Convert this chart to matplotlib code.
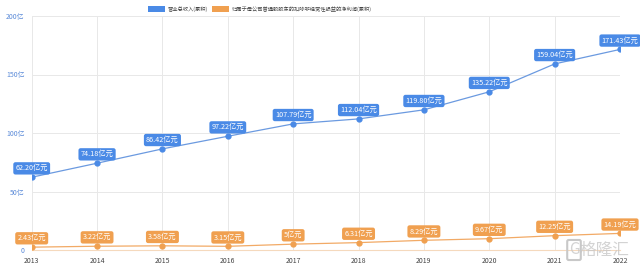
import numpy as np
import matplotlib
matplotlib.use('Agg')
import matplotlib.pyplot as plt
from matplotlib.patches import Rectangle

plt.rcParams['font.family'] = ['Noto Sans CJK SC', 'DejaVu Sans']

years = ['2013', '2014', '2015', '2016', '2017', '2018', '2019', '2020', '2021', '2022']
revenue = [62.20, 74.18, 86.42, 97.22, 107.79, 112.04, 119.80, 135.22, 159.04, 171.43]
profit = [2.43, 3.22, 3.58, 3.15, 5, 6.31, 8.29, 9.67, 12.25, 14.19]
rev_labels = ['62.20亿元', '74.18亿元', '86.42亿元', '97.22亿元', '107.79亿元',
              '112.04亿元', '119.80亿元', '135.22亿元', '159.04亿元', '171.43亿元']
prof_labels = ['2.43亿元', '3.22亿元', '3.58亿元', '3.15亿元', '5亿元',
               '6.31亿元', '8.29亿元', '9.67亿元', '12.25亿元', '14.19亿元']
yticks = [0, 50, 100, 150, 200]
ytick_labels = ['0', '50亿', '100亿', '150亿', '200亿']

blue = '#4a8ae6'
orange = '#f0a050'

fig = plt.figure(figsize=(6.4, 2.7), dpi=100)
ax = fig.add_axes([31.7/640, 1-250/270, (620-31.7)/640, 234/270])
x = np.arange(len(years))

ax.plot(x, revenue, color='#6b9ae0', lw=0.9, marker='o', ms=3.5, mfc=blue, mec=blue, zorder=3)
ax.plot(x, profit, color='#f2aa66', lw=0.9, marker='o', ms=3.5, mfc=orange, mec=orange, zorder=3)

for i in range(len(years)):
    ax.annotate(rev_labels[i], (x[i], revenue[i]), xytext=(0, 3.5), textcoords='offset points',
                ha='center', va='bottom', fontsize=5.2, color='white', zorder=5, annotation_clip=False,
                bbox=dict(boxstyle='round,pad=0.3,rounding_size=0.3', fc=blue, ec='none'))
    ax.annotate(prof_labels[i], (x[i], profit[i]), xytext=(0, 3.5), textcoords='offset points',
                ha='center', va='bottom', fontsize=5.2, color='white', zorder=5, annotation_clip=False,
                bbox=dict(boxstyle='round,pad=0.3,rounding_size=0.3', fc=orange, ec='none'))

ax.set_xlim(0, len(years) - 1)
ax.set_ylim(0, 200)
ax.set_xticks(x)
ax.set_xticklabels(years, fontsize=5, color='#444444')
ax.set_yticks(yticks)
ax.set_yticklabels(ytick_labels, fontsize=5, color='#5a8ad8')
ax.tick_params(length=0, pad=5)
ax.grid(True, color='#e8e8e8', lw=0.7)
for s in ['top', 'right', 'left']:
    ax.spines[s].set_visible(False)
ax.spines['bottom'].set_color('#f5d9bd')
ax.set_axisbelow(True)

# legend
fig.patches.append(Rectangle((148/640, 1-12/270), 17/640, 6/270, transform=fig.transFigure, fc=blue, ec='none'))
fig.text(168/640, 1-9/270, '营业总收入(累积)', fontsize=3.8, color='#444444', va='center')
fig.patches.append(Rectangle((212/640, 1-12/270), 17/640, 6/270, transform=fig.transFigure, fc=orange, ec='none'))
fig.text(232/640, 1-9/270, '归属于母公司普通股股东的扣除非经常性损益的净利润(累积)', fontsize=3.8, color='#444444', va='center')

# watermark
fig.text(604/640, 1-250/270, '格隆汇', fontsize=12, color='#c8c8c8', ha='center', va='center', alpha=0.8)
fig.text(574/640, 1-250/270, 'G', fontsize=11, color='#c8c8c8', ha='center', va='center', alpha=0.8,
         bbox=dict(boxstyle='round,pad=0.1', fc='none', ec='#c8c8c8', lw=1.5))

fig.savefig('out.png', dpi=100)
